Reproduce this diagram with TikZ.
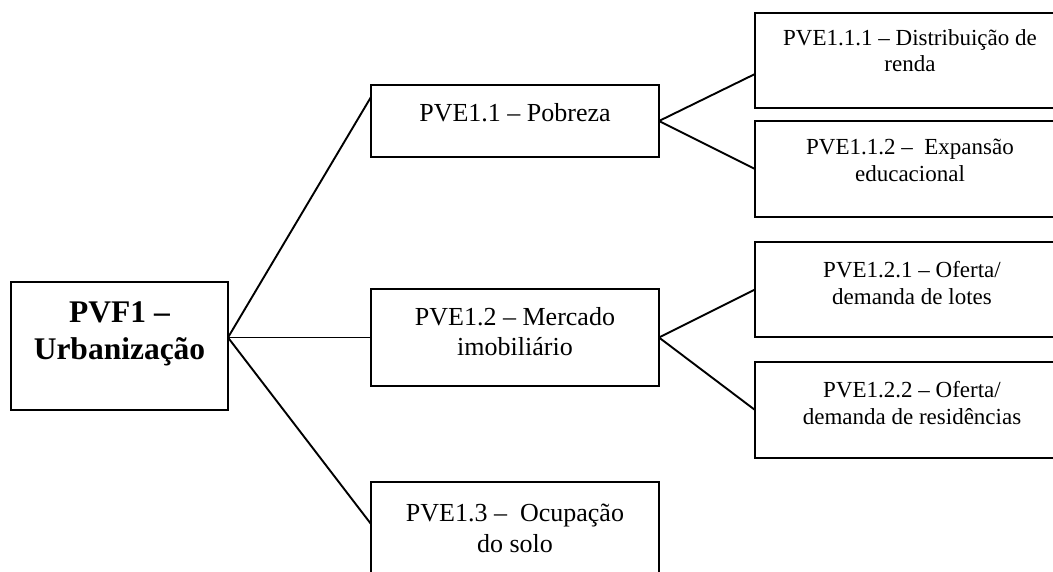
\documentclass[tikz,border=0pt]{standalone}
\usepackage{fontspec}
\setmainfont{Liberation Serif}
\usetikzlibrary{calc}
\tikzset{
  box/.style={draw, line width=1.9pt, rectangle, inner sep=0pt, outer sep=0pt},
  lvone/.style={anchor=north, inner sep=0pt, align=center, font=\fontsize{31.5}{37}\selectfont\bfseries},
  lvtwo/.style={anchor=north, inner sep=0pt, align=center, font=\fontsize{26}{30.5}\selectfont},
  lvthree/.style={anchor=north, inner sep=0pt, align=center, font=\fontsize{23}{26.5}\selectfont},
  link/.style={line width=1.9pt}
}
\begin{document}
\begin{tikzpicture}[x=1pt,y=-1pt]
\useasboundingbox (0,0) rectangle (1053,572);
\fill[white] (0,0) rectangle (1053,572);
\clip (0,0) rectangle (1053,572);
% boxes
\node[box, minimum width=217pt, minimum height=128pt] (root) at (119.5,346) {};
\node[box, minimum width=288pt, minimum height=72pt] (b1) at (515,121) {};
\node[box, minimum width=288pt, minimum height=97pt] (b2) at (515,337.5) {};
\node[box, minimum width=288pt, minimum height=118pt] (b3) at (515,541) {};
\node[box, minimum width=310pt, minimum height=95pt] (c1) at (910,60.5) {};
\node[box, minimum width=310pt, minimum height=96pt] (c2) at (910,169) {};
\node[box, minimum width=310pt, minimum height=95pt] (c3) at (910,289.5) {};
\node[box, minimum width=310pt, minimum height=96pt] (c4) at (910,410) {};
% texts
\node[lvone] (troot) at (119.5,301.7) {PVF1 –\\Urbanização};
\node[lvtwo] (tb1) at (515,103.2) {PVE1.1 – Pobreza};
\node[lvtwo] (tb2) at (515,307.2) {PVE1.2 – Mercado\\imobiliário};
\node[lvtwo] (tb3) at (515,504.2) {PVE1.3 –\ \ Ocupação\\do solo};
\node[lvthree] (tc1) at (910,29.3) {PVE1.1.1 – Distribuição de\\renda};
\node[lvthree] (tc2) at (910,139.3) {PVE1.1.2 –\ \ Expansão\\educacional};
\node[lvthree] (tc3) at (912,261.3) {PVE1.2.1 – Oferta/\\demanda de lotes};
\node[lvthree] (tc4) at (912,381.3) {PVE1.2.2 – Oferta/\\demanda de residências};
% connectors
\coordinate (rootout) at (root.east |- b2.west);
\draw[link] (rootout) -- ($(b1.north west)+(0,12)$);
\draw[link] (rootout) -- (b2.west);
\draw[link] (rootout) -- ($(b3.north west)+(0,42)$);
\draw[link] (b1.east) -- ($(c1.north west)+(0,61)$);
\draw[link] (b1.east) -- (c2.west);
\draw[link] (b2.east) -- (c3.west);
\draw[link] (b2.east) -- (c4.west);
\end{tikzpicture}
\end{document}
